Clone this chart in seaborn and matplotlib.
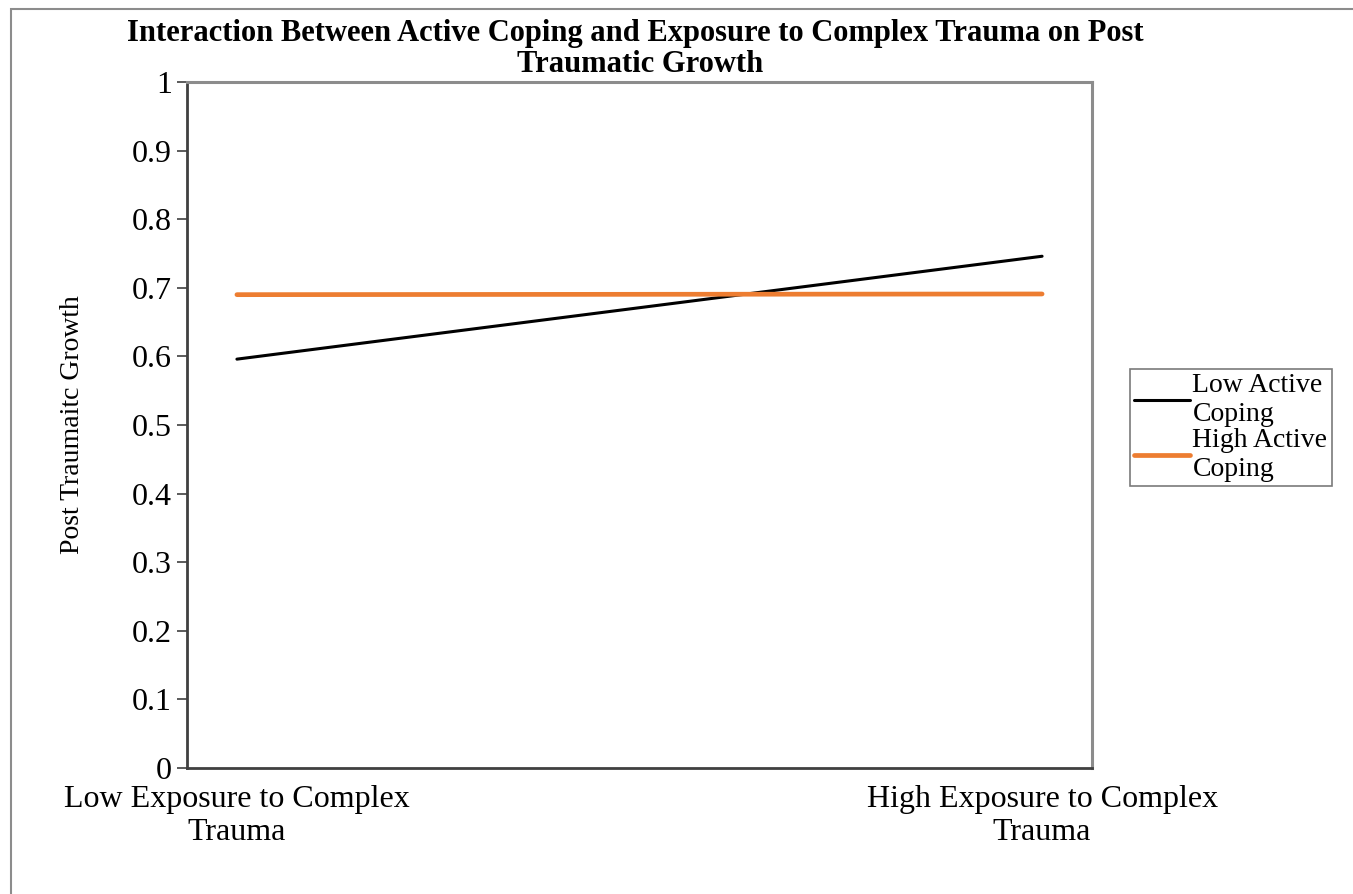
import numpy as np
import pandas as pd
import matplotlib
matplotlib.use('Agg')
import matplotlib.pyplot as plt
from matplotlib.patches import Rectangle
import seaborn as sns

# data
categories = ['Low Exposure to Complex\nTrauma', 'High Exposure to Complex\nTrauma']
low_coping = [0.596, 0.746]
high_coping = [0.690, 0.691]
series_names = ['Low Active\nCoping', 'High Active\nCoping']
y_ticks = [0, 0.1, 0.2, 0.3, 0.4, 0.5, 0.6, 0.7, 0.8, 0.9, 1]
title_lines = ['Interaction Between Active Coping and Exposure to Complex Trauma on Post',
               'Traumatic Growth']

df = pd.DataFrame({
    'Exposure': categories * 2,
    'PTG': low_coping + high_coping,
    'Coping': [series_names[0]] * 2 + [series_names[1]] * 2,
})

sns.set_theme(style='white')
plt.rcParams['font.family'] = ['Liberation Serif', 'DejaVu Serif']
plt.rcParams['text.color'] = 'black'
plt.rcParams['axes.labelcolor'] = 'black'
plt.rcParams['xtick.color'] = 'black'
plt.rcParams['ytick.color'] = 'black'

W, H = 1353, 894
fig = plt.figure(figsize=(W / 100, H / 100), dpi=100)
ax = fig.add_axes([187 / W, 1 - 768 / H, (1092 - 187) / W, (768 - 82) / H])

palette = {series_names[0]: '#000000', series_names[1]: '#ED7D31'}
sns.lineplot(data=df, x='Exposure', y='PTG', hue='Coping', palette=palette,
             ax=ax, sort=False, legend=False)
ax.lines[0].set_linewidth(2.2)
ax.lines[1].set_linewidth(3.4)
for ln in ax.lines:
    ln.set_solid_capstyle('round')

ax.set_xlim(-0.062, 1.062)
ax.set_ylim(0, 1)
ax.set_yticks(y_ticks)
ax.set_yticklabels(['0', '0.1', '0.2', '0.3', '0.4', '0.5', '0.6', '0.7', '0.8', '0.9', '1'])
ax.tick_params(axis='y', labelsize=23, length=7, width=1.2, color='#404040', pad=4, left=True)
ax.tick_params(axis='x', labelsize=23, length=0, pad=12)
ax.set_xlabel('')
ax.set_ylabel('Post Traumaitc Growth', fontsize=20)
ax.yaxis.set_label_coords(-0.113, 0.5)

for side in ['left', 'bottom']:
    ax.spines[side].set_color('#404040')
    ax.spines[side].set_linewidth(2)
for side in ['top', 'right']:
    ax.spines[side].set_color('#8c8c8c')
    ax.spines[side].set_linewidth(2.2)

# two-line title, one text per line
fig.text(635 / W, 1 - 33 / H, title_lines[0], ha='center', va='center',
         fontsize=22, fontweight='bold')
fig.text(640 / W, 1 - 64 / H, title_lines[1], ha='center', va='center',
         fontsize=22, fontweight='bold')

handles = [plt.Line2D([], [], color='#000000', lw=2.2),
           plt.Line2D([], [], color='#ED7D31', lw=3.4)]
leg = fig.legend(handles, series_names, loc='upper left',
                 bbox_to_anchor=(1130 / W, 1 - 369 / H), bbox_transform=fig.transFigure,
                 fontsize=20, frameon=True, fancybox=False, handlelength=2.0,
                 handletextpad=0.1, borderpad=0.15, labelspacing=0.05, borderaxespad=0)
leg.get_frame().set_edgecolor('#595959')
leg.get_frame().set_linewidth(1.2)

# outer chart border
fig.patches.append(Rectangle((11 / W, -0.05), 1.1, 1 - 9 / H + 0.05, transform=fig.transFigure,
                             fill=False, edgecolor='#8c8c8c', linewidth=1.5))

fig.savefig('out.png', dpi=100)
